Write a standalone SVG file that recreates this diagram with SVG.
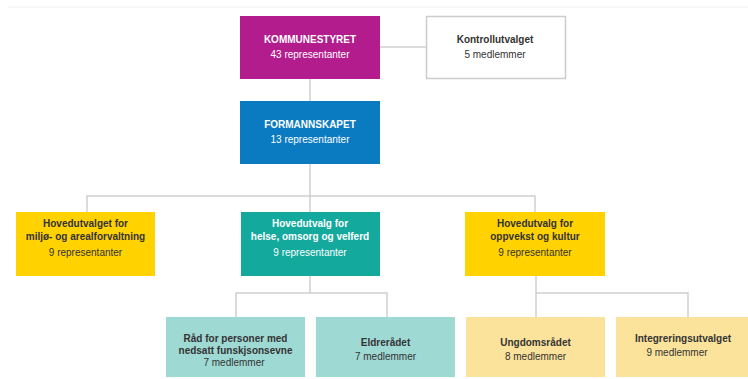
<svg xmlns="http://www.w3.org/2000/svg" width="748" height="379" viewBox="0 0 748 379">
<style>
.t{font-family:"Liberation Sans",Arial,sans-serif;font-size:10px;text-anchor:middle}
.b{font-weight:bold}
.w{fill:#ffffff}
.d{fill:#333333}
.c{fill:none;stroke:#cfcfcf;stroke-width:1.5}
</style>
<rect width="748" height="379" fill="#ffffff"/>
<line x1="8" y1="7" x2="748" y2="7" stroke="#eeeeee" stroke-width="1"/>
<g id="connectors">
<path class="c" d="M380 47H426"/>
<path class="c" d="M310 79V101"/>
<path class="c" d="M310 164V212"/>
<path class="c" d="M87 212V196H535V212"/>
<path class="c" d="M310 276V293M236 317V293H387V317"/>
<path class="c" d="M536 276V293M536 317V293H688V317"/>
</g>
<g id="kommunestyret">
<rect x="240" y="16" width="140" height="63" fill="#B31C8D"/>
<text class="t b w" x="310" y="43">KOMMUNESTYRET</text>
<text class="t w" x="310" y="58">43 representanter</text>
</g>
<g id="kontrollutvalget">
<rect x="426.5" y="16.5" width="139" height="62" fill="#ffffff" stroke="#cccccc" stroke-width="1.5"/>
<text class="t b d" x="495" y="43">Kontrollutvalget</text>
<text class="t d" x="495" y="58">5 medlemmer</text>
</g>
<g id="formannskapet">
<rect x="240" y="101" width="140" height="63" fill="#0A7AC1"/>
<text class="t b w" x="310" y="128">FORMANNSKAPET</text>
<text class="t w" x="310" y="143">13 representanter</text>
</g>
<g id="miljo">
<rect x="16" y="212" width="139" height="64" fill="#FFD200"/>
<text class="t b d" x="85.5" y="227">Hovedutvalget for</text>
<text class="t b d" x="85.5" y="240">miljø- og arealforvaltning</text>
<text class="t d" x="85.5" y="256">9 representanter</text>
</g>
<g id="helse">
<rect x="241" y="212" width="139" height="64" fill="#14A99D"/>
<text class="t b w" x="310" y="227">Hovedutvalg for</text>
<text class="t b w" x="310" y="240">helse, omsorg og velferd</text>
<text class="t w" x="310" y="256">9 representanter</text>
</g>
<g id="oppvekst">
<rect x="465" y="212" width="140" height="64" fill="#FFD200"/>
<text class="t b d" x="535" y="227">Hovedutvalg for</text>
<text class="t b d" x="535" y="240">oppvekst og kultur</text>
<text class="t d" x="535" y="256">9 representanter</text>
</g>
<g id="raad">
<rect x="166" y="317" width="139" height="60" fill="#9FD9D3"/>
<text class="t b d" x="235.5" y="342">Råd for personer med</text>
<text class="t b d" x="235.5" y="354">nedsatt funskjsonsevne</text>
<text class="t d" x="234" y="366">7 medlemmer</text>
</g>
<g id="eldreraadet">
<rect x="316" y="317" width="139" height="60" fill="#9FD9D3"/>
<text class="t b d" x="385.5" y="346">Eldrerådet</text>
<text class="t d" x="385.5" y="360">7 medlemmer</text>
</g>
<g id="ungdomsraadet">
<rect x="466" y="317" width="139" height="60" fill="#FBE39C"/>
<text class="t b d" x="535.5" y="346">Ungdomsrådet</text>
<text class="t d" x="535.5" y="360">8 medlemmer</text>
</g>
<g id="integrering">
<rect x="616" y="317" width="132" height="60" fill="#FBE39C"/>
<text class="t b d" x="683" y="342">Integreringsutvalget</text>
<text class="t d" x="677" y="356">9 medlemmer</text>
</g>
</svg>
